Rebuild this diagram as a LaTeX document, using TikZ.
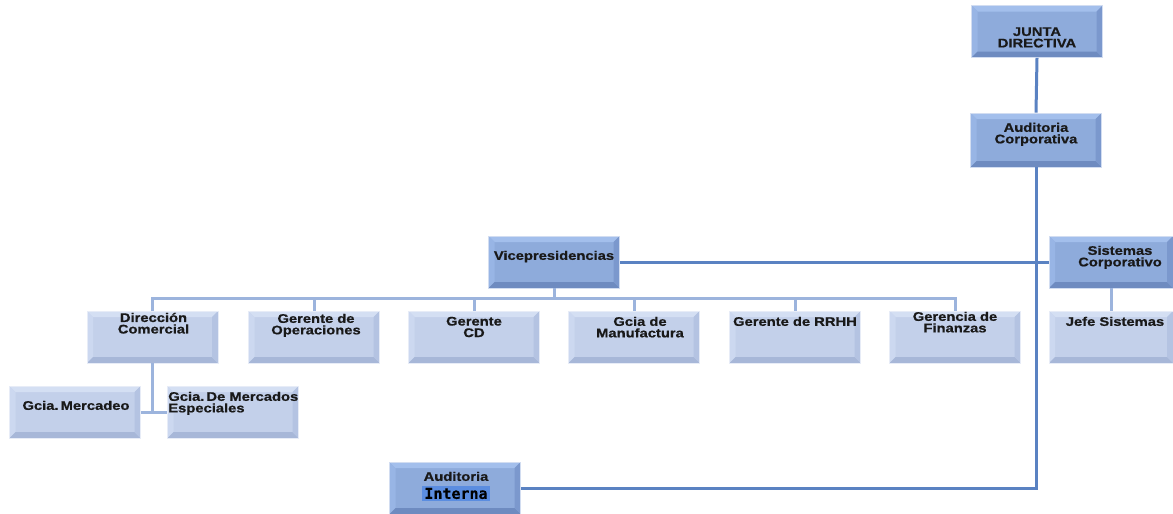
\documentclass[tikz,border=0pt]{standalone}
\usepackage{fontspec}
\newfontfamily\boxfont[FakeStretch=1.18, BoldFeatures={FakeBold=0.7}]{Liberation Sans}
\newfontfamily\hlfont[BoldFeatures={FakeBold=0.5}]{DejaVu Sans Mono}
\definecolor{dkmain}{HTML}{8EABDB}
\definecolor{dktop}{HTML}{A3BFEC}
\definecolor{dkleft}{HTML}{98B5E5}
\definecolor{dkbot}{HTML}{6E8BC0}
\definecolor{dkright}{HTML}{7B98CD}
\definecolor{ltmain}{HTML}{C3D0EA}
\definecolor{lttop}{HTML}{D4DFF3}
\definecolor{ltleft}{HTML}{CCD8F0}
\definecolor{ltbot}{HTML}{A7B7D8}
\definecolor{ltright}{HTML}{B4C3E2}
\definecolor{mainline}{HTML}{5A82C2}
\definecolor{busline}{HTML}{9CB4DD}
\definecolor{hilite}{HTML}{5B8DE0}
\tikzset{
  bevel/.style n args={5}{fill=#1,
    path picture={
      \fill[#2] (path picture bounding box.north west) -- (path picture bounding box.north east)
        -- ([xshift=-6pt,yshift=-6pt]path picture bounding box.north east)
        -- ([xshift=6pt,yshift=-6pt]path picture bounding box.north west) -- cycle;
      \fill[#3] (path picture bounding box.north west) -- (path picture bounding box.south west)
        -- ([xshift=6pt,yshift=6pt]path picture bounding box.south west)
        -- ([xshift=6pt,yshift=-6pt]path picture bounding box.north west) -- cycle;
      \fill[#4] (path picture bounding box.south west) -- (path picture bounding box.south east)
        -- ([xshift=-6pt,yshift=6pt]path picture bounding box.south east)
        -- ([xshift=6pt,yshift=6pt]path picture bounding box.south west) -- cycle;
      \fill[#5] (path picture bounding box.north east) -- (path picture bounding box.south east)
        -- ([xshift=-6pt,yshift=6pt]path picture bounding box.south east)
        -- ([xshift=-6pt,yshift=-6pt]path picture bounding box.north east) -- cycle;
    }},
  boxbase/.style={rectangle, inner sep=0pt, minimum width=131pt, minimum height=52pt},
  darkbox/.style={boxbase, draw=dkmain!40!white, line width=0.8pt,
    bevel={dkmain}{dktop}{dkleft}{dkbot}{dkright}},
  lightbox/.style={boxbase, draw=ltmain!40!white, line width=0.8pt,
    bevel={ltmain}{lttop}{ltleft}{ltbot}{ltright}},
  txt/.style={inner sep=0pt, align=center, anchor=north, text=black!90,
    font=\boxfont\bfseries\fontsize{12.5}{11.5}\selectfont},
  mainconn/.style={draw=mainline, line width=3pt},
  busconn/.style={draw=busline, line width=3pt},
}
\begin{document}
\begin{tikzpicture}[x=1pt, y=-1pt]
\fill[white] (0,0) rectangle (1173,514);
\useasboundingbox (0,0) rectangle (1173,514);

% boxes
\node[darkbox] (junta) at (1037,31.5) {};
\node[darkbox, minimum height=54pt] (aud) at (1036,140) {};
\node[darkbox] (vice) at (554,262) {};
\node[darkbox, minimum width=124pt] (sis) at (1111,262) {};
\node[lightbox, minimum width=124pt] (jefe) at (1111,337) {};
\node[lightbox] (dir) at (152.5,337) {};
\node[lightbox] (gop) at (314,337) {};
\node[lightbox] (gcd) at (474,337) {};
\node[lightbox] (man) at (634,337) {};
\node[lightbox] (rrhh) at (795,337) {};
\node[lightbox] (fin) at (955,337) {};
\node[lightbox] (merc) at (75,412) {};
\node[lightbox] (esp) at (233,412) {};
\node[darkbox] (inter) at (455,488) {};

% connectors
\coordinate (bus) at (0,298);
\path[mainconn] (junta.south) -- (aud.north);
\path[mainconn] (aud.south) |- (inter.east);
\path[mainconn] (vice.east) -- (sis.west);
\path[busconn] (vice.south) -- (vice.south |- bus);
\path[busconn] ([xshift=-1.5pt]dir.north |- bus) -- ([xshift=1.5pt]fin.north |- bus);
\foreach \b in {dir,gop,gcd,man,rrhh,fin}
  \path[busconn] (\b.north |- bus) -- (\b.north);
\path[busconn] (sis.south) -- (jefe.north);
\path[busconn] (dir.south) -- (dir.south |- merc.east);
\path[busconn] (merc.east) -- (esp.west);

% labels
\node[txt] (junta-t) at ([yshift=-22pt]junta.north) {JUNTA\\DIRECTIVA};
\node[txt] (aud-t) at ([yshift=-10pt]aud.north) {Auditoria\\Corporativa};
\node[txt] (vice-t) at ([yshift=-15pt]vice.north) {Vicepresidencias};
\node[txt] (sis-t) at ([xshift=9pt,yshift=-10pt]sis.north) {Sistemas\\Corporativo};
\node[txt] (jefe-t) at ([xshift=4pt,yshift=-6pt]jefe.north) {Jefe Sistemas};
\node[txt] (dir-t) at ([xshift=1pt,yshift=-2pt]dir.north) {Dirección\\Comercial};
\node[txt] (gop-t) at ([xshift=2pt,yshift=-3pt]gop.north) {Gerente de\\Operaciones};
\node[txt] (gcd-t) at ([yshift=-6pt]gcd.north) {Gerente\\CD};
\node[txt] (man-t) at ([xshift=6pt,yshift=-6pt]man.north) {Gcia de\\Manufactura};
\node[txt] (rrhh-t) at ([yshift=-6pt]rrhh.north) {Gerente de RRHH};
\node[txt] (fin-t) at ([yshift=-1pt]fin.north) {Gerencia de\\Finanzas};
\node[txt] (merc-t) at ([xshift=1pt,yshift=-15pt]merc.north) {Gcia.\,Mercadeo};
\node[txt, anchor=north west, align=left] (esp-t) at ([xshift=1pt,yshift=-6pt]esp.north west) {Gcia.\,De Mercados\\Especiales};
\node[txt] (inter-t) at ([xshift=1pt,yshift=-10pt]inter.north) {Auditoria};
\node[fill=hilite, inner xsep=2pt, inner ysep=1.5pt, text=black,
      font=\hlfont\bfseries\fontsize{15}{15}\selectfont, anchor=north]
  (inter-h) at ([yshift=-5pt]inter-t.south) {Interna};
\end{tikzpicture}
\end{document}
